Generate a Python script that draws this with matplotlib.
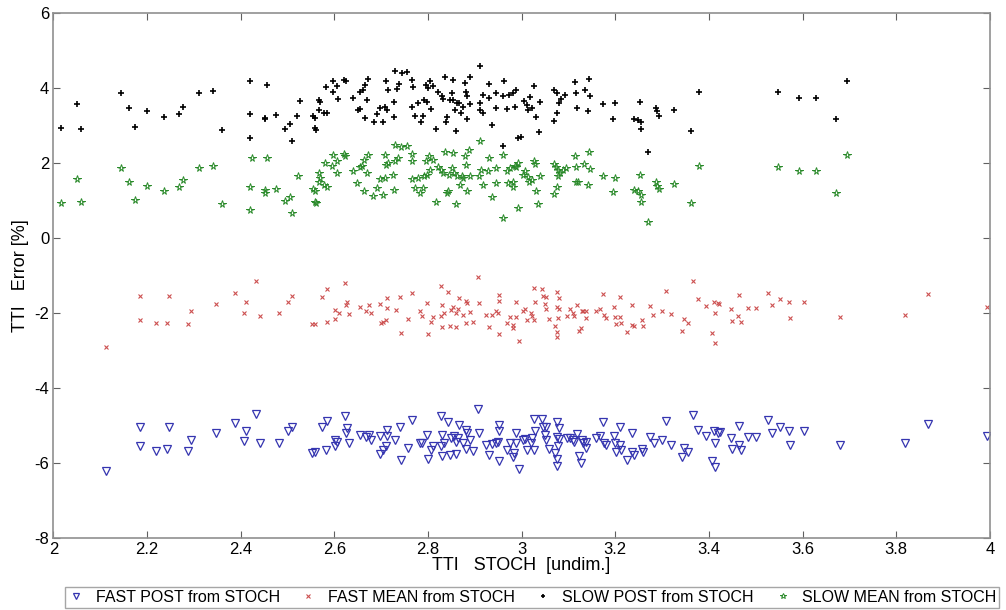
import numpy as np
import matplotlib
matplotlib.use("Agg")
import matplotlib.pyplot as plt

plt.rcParams['font.family'] = ['Liberation Sans', 'DejaVu Sans']
plt.rcParams['axes.unicode_minus'] = False

# SLOW POST from STOCH  (x, y)
slow_post = [
    (2.016, 2.93), (2.051, 3.57), (2.060, 2.91), (2.144, 3.87), (2.161, 3.46), (2.174, 2.95),
    (2.201, 3.37), (2.236, 3.22), (2.269, 3.30), (2.276, 3.50), (2.312, 3.87), (2.340, 3.92),
    (2.360, 2.87), (2.420, 4.18), (2.420, 3.31), (2.420, 2.67), (2.457, 4.08), (2.451, 3.19),
    (2.453, 3.17), (2.476, 3.28),
    (2.494, 2.91), (2.506, 3.03), (2.510, 2.57), (2.521, 3.25), (2.526, 3.64), (2.554, 3.25),
    (2.559, 3.19), (2.559, 2.92), (2.560, 2.88), (2.567, 3.68), (2.570, 3.61), (2.568, 3.41),
    (2.577, 3.34), (2.584, 3.34), (2.582, 4.01), (2.597, 3.90), (2.598, 4.17), (2.605, 4.05),
    (2.607, 3.70), (2.621, 4.21), (2.625, 4.17), (2.641, 3.72), (2.651, 3.40), (2.654, 3.90),
    (2.655, 3.43), (2.661, 3.93), (2.666, 4.08), (2.669, 3.68), (2.673, 4.23), (2.666, 3.19),
    (2.685, 3.10), (2.692, 3.31), (2.698, 3.46), (2.705, 3.08), (2.708, 3.50), (2.710, 4.17),
    (2.712, 3.41), (2.715, 3.93), (2.727, 3.22), (2.727, 3.62), (2.733, 3.97), (2.739, 4.11),
    (2.730, 4.46), (2.744, 4.39), (2.755, 4.42), (2.767, 4.21), (2.769, 4.02), (2.767, 3.50),
    (2.772, 3.25), (2.779, 3.59), (2.785, 3.10), (2.790, 3.25), (2.791, 3.68), (2.796, 4.08),
    (2.797, 3.61), (2.801, 3.99), (2.804, 4.17), (2.806, 3.43), (2.811, 4.04), (2.818, 2.90),
    (2.822, 3.88), (2.829, 3.79), (2.833, 3.70), (2.836, 4.30), (2.838, 3.10), (2.841, 3.22),
    (2.847, 3.68), (2.851, 3.86), (2.853, 4.21), (2.854, 3.68), (2.858, 3.40), (2.860, 2.84),
    (2.861, 3.59), (2.867, 3.59), (2.870, 3.32), (2.874, 3.50), (2.879, 4.12), (2.882, 3.90),
    (2.884, 3.77), (2.884, 3.17), (2.890, 4.30), (2.890, 3.57), (2.911, 4.57), (2.911, 3.59),
    (2.912, 3.40), (2.917, 3.81), (2.918, 3.34), (2.931, 4.11), (2.931, 3.72), (2.936, 3.01),
    (2.946, 3.86), (2.946, 3.46), (2.961, 3.79), (2.963, 4.17), (2.968, 3.43), (2.973, 3.81),
    (2.981, 3.86), (2.989, 3.95), (2.993, 2.66), (2.961, 2.44),
    (2.986, 3.50), (3.005, 3.64), (3.011, 3.55), (3.014, 3.41), (3.018, 3.75), (3.023, 3.46),
    (3.026, 4.04), (3.030, 3.22), (3.040, 3.61), (3.038, 2.81), (2.998, 2.68), (3.070, 3.93),
    (3.075, 3.86), (3.080, 3.59), (3.085, 3.70), (3.092, 3.81), (3.075, 3.34), (3.070, 3.12),
    (3.115, 4.15), (3.117, 3.86), (3.119, 3.46), (3.135, 3.95), (3.144, 4.23), (3.147, 3.79),
    (3.141, 3.37), (3.173, 3.56), (3.200, 3.59), (3.195, 3.17), (3.252, 3.62), (3.240, 3.18),
    (3.249, 3.15), (3.256, 3.10), (3.256, 2.91), (3.270, 2.29), (3.286, 3.46), (3.289, 3.37),
    (3.294, 3.25), (3.326, 3.41), (3.362, 2.84), (3.379, 3.88),
    (3.547, 3.88), (3.592, 3.73), (3.629, 3.73), (3.671, 3.17), (3.694, 4.19),
]

# SLOW MEAN from STOCH
slow_mean = [
    (2.016, 0.94), (2.051, 1.57), (2.060, 0.95), (2.144, 1.87), (2.161, 1.49), (2.174, 1.01),
    (2.201, 1.38), (2.236, 1.24), (2.269, 1.35), (2.276, 1.55), (2.312, 1.87), (2.340, 1.91),
    (2.360, 0.91), (2.420, 1.36), (2.420, 0.75), (2.425, 2.14), (2.457, 2.14), (2.451, 1.28),
    (2.453, 1.19), (2.476, 1.31),
    (2.494, 0.99), (2.506, 1.09), (2.510, 0.66), (2.523, 1.66), (2.554, 1.30), (2.559, 1.26),
    (2.559, 0.97), (2.560, 0.92), (2.567, 1.72), (2.570, 1.59), (2.568, 1.48), (2.577, 1.41),
    (2.584, 1.37), (2.580, 1.99), (2.597, 2.21), (2.595, 1.92), (2.605, 2.04), (2.605, 1.72),
    (2.621, 2.24), (2.623, 2.17), (2.639, 1.77), (2.649, 1.46), (2.654, 1.90), (2.659, 1.92),
    (2.663, 2.08), (2.669, 1.72), (2.671, 2.21), (2.664, 1.25), (2.683, 1.12), (2.692, 1.34),
    (2.698, 1.56), (2.703, 1.15), (2.708, 2.21), (2.708, 1.59), (2.710, 1.95), (2.715, 1.99),
    (2.726, 1.68), (2.727, 1.28), (2.730, 2.04), (2.735, 2.12), (2.730, 2.48), (2.742, 2.42),
    (2.755, 2.45), (2.767, 2.24), (2.767, 2.04), (2.767, 1.56), (2.772, 1.32), (2.779, 1.59),
    (2.784, 1.19), (2.790, 1.32), (2.791, 1.64), (2.796, 2.04), (2.797, 1.68), (2.803, 2.17),
    (2.804, 1.81), (2.810, 2.08), (2.817, 0.97), (2.822, 1.90), (2.827, 1.81), (2.833, 1.72),
    (2.836, 2.30), (2.840, 1.19), (2.843, 1.24), (2.845, 1.68), (2.851, 1.86), (2.853, 2.26),
    (2.855, 1.72), (2.859, 0.91), (2.863, 1.64), (2.868, 1.41), (2.872, 1.64), (2.875, 1.59),
    (2.879, 2.17), (2.882, 1.95), (2.884, 1.24), (2.888, 2.33), (2.890, 1.64), (2.911, 2.57),
    (2.910, 1.64), (2.914, 1.81), (2.917, 1.41), (2.929, 1.77), (2.931, 2.12), (2.936, 1.10),
    (2.946, 1.86), (2.946, 1.46), (2.961, 2.20), (2.961, 0.52), (2.969, 1.77), (2.971, 1.46),
    (2.975, 1.86), (2.981, 1.37), (2.988, 1.90), (2.993, 0.79),
    (2.986, 1.92), (2.982, 1.50), (2.993, 1.99), (3.003, 1.68), (3.007, 1.77), (3.014, 1.62),
    (3.016, 1.48), (3.023, 1.55), (3.026, 2.06), (3.028, 1.96), (3.030, 1.26), (3.035, 0.90),
    (3.040, 1.64), (3.070, 1.97), (3.073, 1.90), (3.078, 1.81), (3.082, 1.72), (3.089, 1.80),
    (3.094, 1.86), (3.078, 1.64), (3.075, 1.37), (3.070, 1.17), (3.114, 2.17), (3.116, 1.88),
    (3.116, 1.48), (3.121, 1.48), (3.134, 1.97), (3.144, 2.28), (3.146, 1.84), (3.141, 1.41),
    (3.173, 1.64), (3.200, 1.59), (3.195, 1.22), (3.252, 1.68), (3.239, 1.28), (3.249, 1.26),
    (3.256, 1.15), (3.256, 0.97), (3.270, 0.42), (3.288, 1.50), (3.290, 1.39), (3.294, 1.30),
    (3.326, 1.44), (3.361, 0.92), (3.378, 1.92),
    (3.547, 1.90), (3.592, 1.79), (3.629, 1.79), (3.671, 1.21), (3.694, 2.21),
]

# FAST MEAN from STOCH
fast_mean = [
    (2.112, -2.92), (2.186, -1.55), (2.186, -2.20), (2.220, -2.28), (2.243, -2.28), (2.247, -1.55),
    (2.287, -2.29), (2.294, -1.95), (2.348, -1.77), (2.388, -1.46), (2.412, -1.72), (2.407, -2.01),
    (2.432, -1.14), (2.441, -2.07), (2.481, -2.01),
    (2.502, -1.70), (2.509, -1.56), (2.552, -2.30), (2.559, -2.30), (2.573, -1.58), (2.584, -1.37),
    (2.584, -2.23), (2.602, -1.92), (2.602, -2.16), (2.609, -2.01), (2.623, -1.21), (2.627, -1.72),
    (2.625, -1.79), (2.632, -2.03), (2.654, -1.83), (2.668, -1.94), (2.674, -1.79), (2.678, -2.01),
    (2.698, -1.77), (2.699, -2.28), (2.705, -2.23), (2.710, -2.20), (2.713, -1.61), (2.713, -1.86),
    (2.732, -1.92), (2.740, -1.58), (2.742, -2.54), (2.757, -2.17), (2.765, -1.46), (2.783, -1.96),
    (2.787, -2.07), (2.799, -1.74), (2.801, -2.56), (2.806, -2.23), (2.811, -2.10), (2.828, -1.28),
    (2.829, -1.79), (2.828, -2.08), (2.829, -2.38), (2.834, -1.99), (2.843, -1.43), (2.847, -2.36),
    (2.850, -1.92), (2.854, -1.85), (2.859, -2.38), (2.860, -1.99), (2.866, -1.59), (2.865, -1.90),
    (2.875, -2.05), (2.881, -1.67), (2.884, -1.74), (2.882, -2.26), (2.890, -1.98), (2.897, -2.23),
    (2.907, -1.05), (2.909, -1.74), (2.925, -2.05), (2.931, -2.38), (2.936, -2.05), (2.945, -1.96),
    (2.949, -2.01), (2.951, -1.67), (2.952, -1.52), (2.951, -2.56), (2.969, -2.26), (2.975, -2.10),
    (2.981, -2.41), (2.982, -2.32), (2.988, -2.10), (2.988, -1.72), (2.995, -2.76),
    (3.002, -1.96), (3.007, -1.90), (3.012, -2.20), (3.021, -2.01), (3.023, -2.07), (3.026, -1.34),
    (3.028, -1.71), (3.027, -2.19), (3.044, -1.37), (3.045, -1.56), (3.053, -1.58), (3.050, -1.77),
    (3.052, -1.89), (3.059, -2.17), (3.075, -1.43), (3.080, -1.59), (3.075, -1.85), (3.080, -1.90),
    (3.078, -2.14), (3.071, -2.36), (3.076, -2.52), (3.076, -2.63), (3.096, -2.08), (3.103, -1.90),
    (3.109, -1.99), (3.112, -2.07), (3.119, -1.79), (3.123, -2.47), (3.126, -2.41), (3.128, -1.94),
    (3.131, -1.96), (3.137, -1.95), (3.137, -2.14), (3.158, -1.94), (3.167, -1.89), (3.174, -1.49),
    (3.176, -2.05), (3.181, -2.14), (3.197, -1.83), (3.199, -2.10), (3.201, -2.30), (3.213, -2.26),
    (3.211, -1.58), (3.211, -2.10), (3.224, -2.52), (3.235, -1.79), (3.235, -2.32), (3.240, -2.35),
    (3.258, -2.19), (3.259, -2.36), (3.275, -1.81), (3.281, -2.05), (3.299, -1.96), (3.308, -1.41),
    (3.318, -2.04), (3.343, -2.47), (3.346, -2.17), (3.355, -2.26), (3.366, -1.16), (3.377, -1.64),
    (3.394, -1.81), (3.407, -2.54), (3.412, -2.81), (3.410, -1.70), (3.412, -1.99), (3.419, -1.74),
    (3.422, -1.76), (3.448, -1.89), (3.450, -2.21), (3.464, -1.52), (3.462, -2.07), (3.469, -2.23),
    (3.483, -1.86), (3.500, -1.86),
    (3.526, -1.46), (3.534, -1.79), (3.551, -1.63), (3.572, -1.71), (3.573, -2.14), (3.604, -1.70),
    (3.680, -2.10), (3.819, -2.05), (3.868, -1.50), (3.994, -1.83),
]

# FAST POST from STOCH
fast_post = [
    (2.112, -6.22), (2.186, -5.05), (2.186, -5.56), (2.220, -5.68), (2.243, -5.63), (2.247, -5.03),
    (2.287, -5.68), (2.294, -5.39), (2.348, -5.21), (2.388, -4.94), (2.412, -5.15), (2.407, -5.41),
    (2.432, -4.70), (2.441, -5.46), (2.481, -5.46),
    (2.502, -5.16), (2.509, -5.05), (2.552, -5.74), (2.559, -5.70), (2.573, -5.03), (2.584, -4.87),
    (2.582, -5.65), (2.602, -5.39), (2.602, -5.55), (2.605, -5.43), (2.623, -4.74), (2.627, -5.08),
    (2.625, -5.21), (2.632, -5.48), (2.654, -5.25), (2.668, -5.30), (2.674, -5.25), (2.678, -5.40),
    (2.698, -5.28), (2.698, -5.76), (2.705, -5.65), (2.710, -5.56), (2.713, -5.12), (2.713, -5.28),
    (2.730, -5.40), (2.740, -5.03), (2.742, -5.92), (2.757, -5.61), (2.765, -4.85), (2.783, -5.46),
    (2.787, -5.48), (2.799, -5.25), (2.801, -5.90), (2.806, -5.65), (2.811, -5.55), (2.828, -4.76),
    (2.829, -5.25), (2.828, -5.56), (2.829, -5.81), (2.834, -5.48), (2.843, -4.90), (2.847, -5.79),
    (2.850, -5.34), (2.855, -5.28), (2.859, -5.76), (2.860, -5.43), (2.866, -4.99), (2.865, -5.34),
    (2.875, -5.48), (2.881, -5.12), (2.884, -5.21), (2.882, -5.64), (2.890, -5.39), (2.897, -5.68),
    (2.907, -4.57), (2.909, -5.21), (2.925, -5.52), (2.931, -5.79), (2.936, -5.50), (2.945, -5.46),
    (2.949, -5.43), (2.951, -5.16), (2.952, -4.99), (2.951, -5.96), (2.969, -5.65), (2.975, -5.48),
    (2.981, -5.83), (2.983, -5.74), (2.988, -5.46), (2.988, -5.19), (2.995, -6.16),
    (3.002, -5.39), (3.007, -5.37), (3.012, -5.65), (3.021, -5.48), (3.023, -5.34), (3.026, -4.84),
    (3.028, -5.16), (3.027, -5.65), (3.044, -4.84), (3.045, -5.03), (3.053, -5.05), (3.050, -5.25),
    (3.052, -5.39), (3.059, -5.63), (3.075, -4.92), (3.080, -5.08), (3.075, -5.30), (3.080, -5.37),
    (3.078, -5.56), (3.071, -5.74), (3.076, -5.90), (3.076, -6.08), (3.096, -5.34), (3.103, -5.34),
    (3.109, -5.40), (3.112, -5.43), (3.119, -5.24), (3.123, -5.81), (3.126, -5.99), (3.128, -5.40),
    (3.131, -5.46), (3.137, -5.43), (3.137, -5.59), (3.158, -5.34), (3.167, -5.28), (3.174, -4.90),
    (3.176, -5.48), (3.181, -5.52), (3.197, -5.27), (3.199, -5.48), (3.201, -5.72), (3.213, -5.65),
    (3.211, -5.03), (3.211, -5.52), (3.224, -5.92), (3.235, -5.21), (3.235, -5.70), (3.240, -5.79),
    (3.258, -5.64), (3.259, -5.72), (3.275, -5.30), (3.282, -5.48), (3.299, -5.39), (3.308, -4.88),
    (3.318, -5.52), (3.343, -5.85), (3.346, -5.61), (3.355, -5.70), (3.366, -4.72), (3.377, -5.12),
    (3.394, -5.27), (3.407, -5.94), (3.412, -6.12), (3.410, -5.16), (3.412, -5.48), (3.419, -5.21),
    (3.423, -5.18), (3.448, -5.34), (3.450, -5.64), (3.464, -5.01), (3.464, -5.52), (3.469, -5.65),
    (3.483, -5.30), (3.500, -5.30),
    (3.526, -4.85), (3.534, -5.21), (3.551, -5.03), (3.572, -5.16), (3.573, -5.52), (3.604, -5.15),
    (3.680, -5.52), (3.819, -5.46), (3.868, -4.96), (3.994, -5.27),
]

fp = np.array(fast_post).T
fm = np.array(fast_mean).T
sp = np.array(slow_post).T
sm = np.array(slow_mean).T

fig = plt.figure(figsize=(10.06, 6.10), dpi=100)
ax = fig.add_axes([0.053, 0.118, 0.931, 0.861])

ax.plot(fp[0], fp[1], 'v', ls='none', ms=5.5, mfc='none', mec='#3535b0', mew=0.9,
        label='FAST POST from STOCH')
ax.plot(fm[0], fm[1], 'x', ls='none', ms=3.2, color='#cc5050', mew=0.8,
        label='FAST MEAN from STOCH')
ax.plot(sp[0], sp[1], '+', ls='none', ms=5, color='black', mew=1.2,
        label='SLOW POST from STOCH')
ax.plot(sm[0], sm[1], '*', ls='none', ms=5.5, mfc='none', mec='#2a8a2a', mew=0.7,
        label='SLOW MEAN from STOCH')

ax.set_xlim(2, 4)
ax.set_ylim(-8, 6)
ax.set_xticks(np.arange(2, 4.01, 0.2))
ax.set_xticklabels(['2', '2.2', '2.4', '2.6', '2.8', '3', '3.2', '3.4', '3.6', '3.8', '4'])
ax.set_yticks(np.arange(-8, 7, 2))
ax.tick_params(direction='in', top=True, right=True, labelsize=12, length=5,
               color='#606060', pad=3)
for s in ax.spines.values():
    s.set_color('#909090')
    s.set_linewidth(1.2)

ax.set_xlabel('TTI   STOCH  [undim.]', fontsize=13, labelpad=0)
ax.set_ylabel('TTI   Error [%]', fontsize=13, labelpad=4)

leg = fig.legend(loc='lower center', bbox_to_anchor=(0.529, 0.003), ncol=4, fontsize=11.5,
                 frameon=True, fancybox=False, edgecolor='#909090', handlelength=1.0,
                 handletextpad=0.7, columnspacing=1.3, borderpad=0.2, borderaxespad=0.0,
                 markerscale=0.7)
leg.get_frame().set_linewidth(1.0)

fig.savefig('out.png', dpi=100)
